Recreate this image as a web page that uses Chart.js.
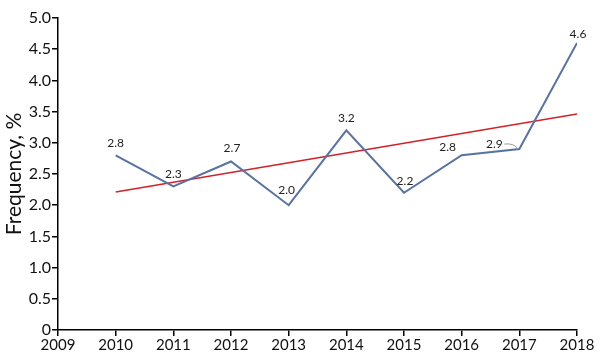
<!DOCTYPE html>
<html lang="en">
<head>
  <meta charset="UTF-8">
  <title>Frequency by year</title>
  <script src="https://cdn.jsdelivr.net/npm/chart.js"></script>
  <style>
    html, body { margin: 0; padding: 0; background: #fff; }
    #wrap { width: 600px; height: 357px; }
  </style>
</head>
<body>
  <div id="wrap"><canvas id="freqChart" width="600" height="357"></canvas></div>
  <script>
    // Data
    const years = [2010, 2011, 2012, 2013, 2014, 2015, 2016, 2017, 2018];
    const frequency = [2.8, 2.3, 2.7, 2.0, 3.2, 2.2, 2.8, 2.9, 4.6];
    const trendYears = [2010, 2018];
    const trendValues = [2.21, 3.46];

    // label nudges in px (most sit straight above the point)
    const labelShift = [[0, -12], [0, -12], [1, -13], [-2, -15], [0, -12], [1, -12], [-14, -8], [-25, -5], [1, -9]];

    const font = 'Lato, "DejaVu Sans", sans-serif';

    const pointLabels = {
      id: 'pointLabels',
      afterDatasetsDraw(chart) {
        const ctx = chart.ctx;
        const meta = chart.getDatasetMeta(0);
        ctx.save();
        ctx.font = '12px ' + font;
        ctx.fillStyle = '#222';
        ctx.textAlign = 'center';
        ctx.textBaseline = 'middle';
        meta.data.forEach((pt, i) => {
          const [dx, dy] = labelShift[i];
          ctx.fillText(frequency[i].toFixed(1), pt.x + dx, pt.y + dy);
        });
        // little leader line for the 2017 label
        const p = meta.data[7];
        ctx.strokeStyle = '#999';
        ctx.lineWidth = 1;
        ctx.beginPath();
        ctx.moveTo(p.x - 15, p.y - 5);
        ctx.quadraticCurveTo(p.x - 6, p.y - 6, p.x - 2, p.y - 1);
        ctx.stroke();
        ctx.restore();
      }
    };

    const ctx = document.getElementById('freqChart').getContext('2d');
    new Chart(ctx, {
      type: 'line',
      data: {
        datasets: [
          {
            label: 'Frequency',
            data: years.map((y, i) => ({ x: y, y: frequency[i] })),
            borderColor: '#5872a6',
            borderWidth: 2,
            pointRadius: 0,
            tension: 0,
            fill: false
          },
          {
            label: 'Trend',
            data: trendYears.map((y, i) => ({ x: y, y: trendValues[i] })),
            borderColor: '#d42026',
            borderWidth: 1.5,
            pointRadius: 0,
            fill: false
          }
        ]
      },
      options: {
        responsive: false,
        animation: false,
        layout: { padding: { top: 18, right: 23, left: 2, bottom: 0 } },
        plugins: {
          legend: { display: false },
          tooltip: { enabled: false }
        },
        scales: {
          x: {
            type: 'linear',
            min: 2009,
            max: 2018,
            afterFit: s => { s.height = 27; },
            border: { color: '#000', width: 1.5 },
            grid: { drawOnChartArea: false, color: '#000', tickLength: 6, lineWidth: 1.5 },
            ticks: {
              stepSize: 1,
              padding: 0,
              color: '#111',
              font: { family: font, size: 15 },
              callback: v => String(v)
            }
          },
          y: {
            min: 0,
            max: 5,
            afterFit: s => { s.width = 56; },
            border: { color: '#000', width: 1.5 },
            grid: { drawOnChartArea: false, color: '#000', tickLength: 6, lineWidth: 1.5 },
            ticks: {
              stepSize: 0.5,
              padding: 1,
              color: '#111',
              font: { family: font, size: 16 },
              callback: v => v === 0 ? '0' : v.toFixed(1)
            },
            title: {
              display: true,
              text: 'Frequency, %',
              color: '#111',
              font: { family: font, size: 21 },
              padding: { top: 0, bottom: 0 }
            }
          }
        }
      },
      plugins: [pointLabels]
    });
  </script>
</body>
</html>
